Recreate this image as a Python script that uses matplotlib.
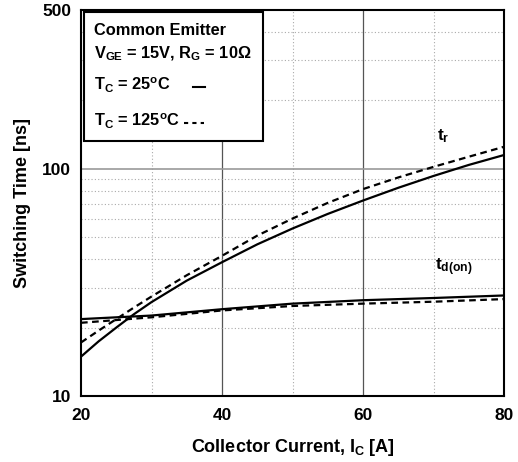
import numpy as np
import matplotlib
matplotlib.use('Agg')
import matplotlib.pyplot as plt
from matplotlib.patches import Rectangle
from matplotlib.lines import Line2D
from matplotlib.ticker import FixedLocator, NullFormatter

plt.rcParams['font.family'] = ['Liberation Sans', 'DejaVu Sans']
plt.rcParams['font.weight'] = 'bold'
plt.rcParams['mathtext.fontset'] = 'custom'
plt.rcParams['mathtext.rm'] = 'Liberation Sans:bold'
plt.rcParams['mathtext.it'] = 'Liberation Sans:bold'
plt.rcParams['mathtext.bf'] = 'Liberation Sans:bold'

# Collector current [A]
ic = [20, 22.5, 25, 27.5, 30, 35, 40, 45, 50, 55, 60, 65, 70, 75, 80]
ic_td = [20, 30, 40, 50, 60, 70, 80]

# rise time t_r [ns]
tr_25 = [14.9, 17.4, 20.0, 22.9, 25.9, 32.2, 38.8, 46.5, 54.6, 63.3,
         72.5, 82.5, 93.0, 104.0, 115.0]
tr_125 = [17.2, 19.4, 21.8, 24.5, 27.4, 34.0, 41.4, 50.8, 60.4, 70.8,
          81.4, 91.6, 102.0, 113.0, 125.0]

# turn-on delay t_d(on) [ns]
td_25 = [21.8, 22.6, 24.1, 25.5, 26.4, 27.0, 27.7]
td_125 = [21.0, 22.2, 23.8, 24.9, 25.5, 26.0, 26.7]

x_ticks = [20, 40, 60, 80]
y_ticks = [10, 100, 500]

W, H = 518, 462
fig = plt.figure(figsize=(W / 100, H / 100), dpi=100)
ax = fig.add_axes([81 / W, 1 - 396 / H, 423 / W, 386 / H])


def px(x, y):
    # pixel position -> figure fraction
    return x / W, 1 - y / H


ax.set_yscale('log')
ax.set_xlim(20, 80)
ax.set_ylim(10, 500)

# grid
for v in [30, 50, 70]:
    ax.axvline(v, color='#aaaaaa', lw=0.8, ls=(0, (1, 2)), zorder=1)
for v in [40, 60]:
    ax.axvline(v, color='#555555', lw=0.9, zorder=1)
for v in [20, 30, 40, 50, 60, 70, 80, 90, 200, 300, 400]:
    ax.axhline(v, color='#aaaaaa', lw=0.8, ls=(0, (1, 2)), zorder=1)
ax.axhline(100, color='#999999', lw=1.2, zorder=1)

# curves
ax.plot(ic, tr_25, color='black', lw=1.6, zorder=3)
ax.plot(ic, tr_125, color='black', lw=1.6, ls=(0, (3, 2)), zorder=3)
ax.plot(ic_td, td_25, color='black', lw=1.6, zorder=3)
ax.plot(ic_td, td_125, color='black', lw=1.6, ls=(0, (3, 2)), zorder=3)

ax.xaxis.set_major_locator(FixedLocator(x_ticks))
ax.yaxis.set_major_locator(FixedLocator(y_ticks))
ax.yaxis.set_minor_formatter(NullFormatter())
ax.set_yticklabels([str(v) for v in y_ticks])
ax.tick_params(which='both', length=0, labelsize=12.5)
ax.tick_params(axis='x', pad=9)
ax.tick_params(axis='y', pad=7)
for lab in ax.get_xticklabels() + ax.get_yticklabels():
    lab.set_fontweight('bold')
for s in ax.spines.values():
    s.set_linewidth(1.5)

ax.set_xlabel(r'Collector Current, I$_{\rm C}$ [A]', fontsize=13,
              fontweight='bold', labelpad=10)
ax.set_ylabel('Switching Time [ns]', fontsize=13, fontweight='bold',
              labelpad=8)

# curve labels
fig.text(*px(437, 140), r't$_{\rm r}$', fontsize=12.5, va='baseline')
fig.text(*px(435, 270), r't$_{\rm d(on)}$', fontsize=12.5, va='baseline')

# legend box
x0, y0 = px(84, 141)
x1, y1 = px(263, 12)
fig.patches.append(Rectangle((x0, y0), x1 - x0, y1 - y0, transform=fig.transFigure,
                             fill=True, facecolor='white', edgecolor='black',
                             lw=1.5, zorder=5))
fs = 11.8
fig.text(*px(94, 35), 'Common Emitter', fontsize=fs, zorder=6)
fig.text(*px(94, 58), r'V$_{\rm GE}$ = 15V, R$_{\rm G}$ = 10$\Omega$',
         fontsize=fs, zorder=6)
fig.text(*px(94, 90), r'T$_{\rm C}$ = 25$^{\rm o}$C', fontsize=fs, zorder=6)
fig.text(*px(94, 126), r'T$_{\rm C}$ = 125$^{\rm o}$C', fontsize=fs, zorder=6)
xa, ya = px(193, 87)
xb, _ = px(205, 87)
fig.lines.append(Line2D([xa, xb], [ya, ya], transform=fig.transFigure,
                        color='black', lw=1.5, zorder=6))
xa, ya = px(184, 123)
xb, _ = px(204, 123)
fig.lines.append(Line2D([xa, xb], [ya, ya], transform=fig.transFigure,
                        color='black', lw=1.5, ls=(0, (2, 2)), zorder=6))

fig.savefig('out.png', dpi=100)
